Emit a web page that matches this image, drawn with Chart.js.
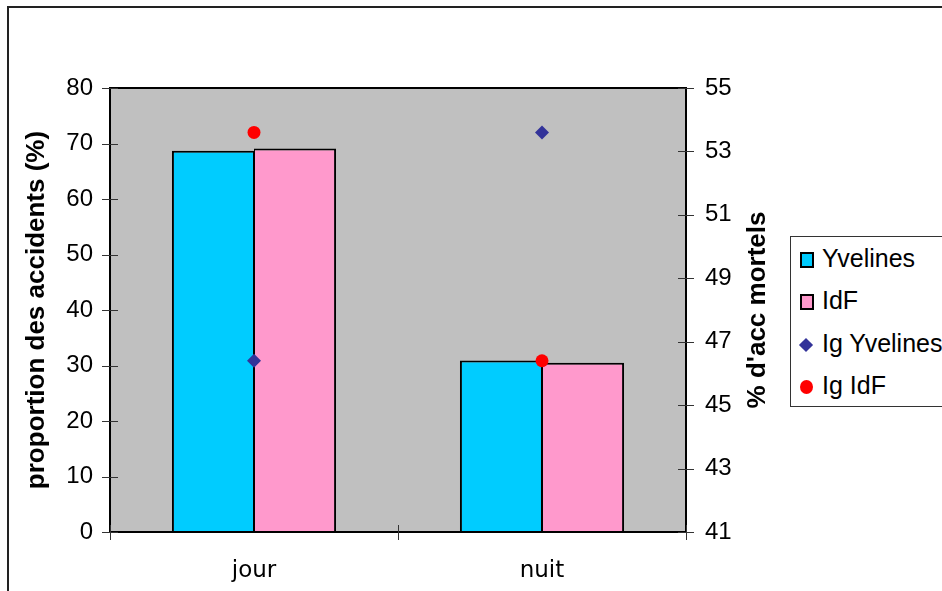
<!DOCTYPE html>
<html>
<head>
<meta charset="utf-8">
<script src="https://cdn.jsdelivr.net/npm/chart.js@4.4.1/dist/chart.umd.min.js"></script>
<style>
html,body{margin:0;padding:0;background:#fff;overflow:hidden}
#wrap{position:relative;width:942px;height:591px;overflow:hidden}
#frame{position:absolute;left:7px;top:6px;width:1000px;height:1000px;border:2px solid #222;box-sizing:border-box}
#plChart{position:absolute;left:0;top:0}
#legend{position:absolute;left:790px;top:236px;width:200px;height:171px;border:1px solid #333;box-sizing:border-box;background:#fff;
  font:25px "Liberation Sans",Arial,sans-serif;color:#000}
.item{position:absolute;left:31px;white-space:nowrap;line-height:30px;height:30px}
.mk{position:absolute;box-sizing:border-box}
</style>
</head>
<body>
<div id="wrap">
  <div id="frame"></div>
  <canvas id="plChart" width="942" height="591"></canvas>
  <div id="legend"></div>
</div>
<script>
const categories = ['jour', 'nuit'];
const yvelines = [68.7, 30.9];
const idf = [69.1, 30.5];
const igYvelines = [46.4, 53.6];
const igIdf = [53.6, 46.4];
const leftTicks = [0, 10, 20, 30, 40, 50, 60, 70, 80];
const rightTicks = [41, 43, 45, 47, 49, 51, 53, 55];

const tickFont = {family:'"Liberation Sans", Arial, sans-serif', size:24};
const titleFont = {family:'"Liberation Sans", Arial, sans-serif', size:26, weight:'bold'};

// grey plot area + black frame, ticks crossing the axes, right title read bottom-up
const plotDecor = {
  id:'plotDecor',
  beforeDatasetsDraw(chart){
    const {ctx, chartArea:a} = chart;
    ctx.save();
    ctx.fillStyle = '#C0C0C0';
    ctx.fillRect(a.left, a.top, a.right-a.left, a.bottom-a.top);
    ctx.restore();
  },
  afterDatasetsDraw(chart){
    const {ctx, chartArea:a, scales} = chart;
    ctx.save();
    ctx.strokeStyle = '#000';
    ctx.lineWidth = 2;
    ctx.strokeRect(a.left, a.top, a.right-a.left, a.bottom-a.top);
    ctx.lineWidth = 1;
    ctx.strokeStyle = '#333';
    ctx.beginPath();
    for(const v of leftTicks){
      const py = Math.round(scales.y.getPixelForValue(v))+0.5;
      ctx.moveTo(a.left-8, py); ctx.lineTo(a.left+8, py);
    }
    for(const v of rightTicks){
      const py = Math.round(scales.y1.getPixelForValue(v))+0.5;
      ctx.moveTo(a.right-8, py); ctx.lineTo(a.right+8, py);
    }
    const step = scales.x.width / categories.length;
    for(let i=0;i<=categories.length;i++){
      const px = Math.round(scales.x.left + i*step)+0.5;
      ctx.moveTo(px, a.bottom-7); ctx.lineTo(px, a.bottom+8);
    }
    ctx.stroke();

    const t = chart.options.scales.y1.title;
    ctx.fillStyle = '#000';
    ctx.font = `bold ${titleFont.size}px ${titleFont.family}`;
    ctx.textAlign = 'center';
    ctx.textBaseline = 'middle';
    ctx.translate(scales.y1.right - 27, (a.top+a.bottom)/2);
    ctx.rotate(-Math.PI/2);
    ctx.fillText(t.text, 0, 0);
    ctx.restore();
  }
};

const ctx = document.getElementById('plChart').getContext('2d');
const chart = new Chart(ctx, {
  type:'bar',
  data:{
    labels: categories,
    datasets:[
      { label:'Yvelines', data:yvelines, yAxisID:'y', backgroundColor:'#00CCFF', borderColor:'#000',
        borderWidth:{top:2,left:2,right:1,bottom:0}, borderSkipped:false, order:2 },
      { label:'IdF', data:idf, yAxisID:'y', backgroundColor:'#FF99CC', borderColor:'#000',
        borderWidth:{top:2,left:1,right:2,bottom:0}, borderSkipped:false, order:2 },
      { type:'line', label:'Ig Yvelines', data:igYvelines, yAxisID:'y1', showLine:false,
        pointStyle:'rectRot', pointRadius:7, pointBackgroundColor:'#333399', pointBorderWidth:0, order:0 },
      { type:'line', label:'Ig IdF', data:igIdf, yAxisID:'y1', showLine:false,
        pointStyle:'circle', pointRadius:6.5, pointBackgroundColor:'#FF0000', pointBorderWidth:0, order:0 }
    ]
  },
  options:{
    responsive:false,
    animation:false,
    layout:{ padding:{left:0, right:157, top:88, bottom:0} },
    categoryPercentage:0.57,
    barPercentage:1,
    plugins:{ legend:{display:false}, tooltip:{enabled:false} },
    scales:{
      x:{
        grid:{display:false, drawTicks:false}, border:{display:false},
        ticks:{color:'#000', font:{family:'"DejaVu Sans", sans-serif', size:23}, padding:25},
        afterFit:(s)=>{ s.height = 59; }
      },
      y:{
        position:'left', min:0, max:80,
        afterBuildTicks:(s)=>{ s.ticks = leftTicks.map(v=>({value:v})); },
        grid:{display:false, drawTicks:false}, border:{display:false},
        ticks:{color:'#000', font:tickFont, padding:17},
        title:{display:true, text:'proportion des accidents (%)', color:'#000', font:titleFont, padding:{top:21,bottom:0}},
        afterFit:(s)=>{ s.width = 110; }
      },
      y1:{
        position:'right', min:41, max:55,
        afterBuildTicks:(s)=>{ s.ticks = rightTicks.map(v=>({value:v})); },
        grid:{display:false, drawTicks:false}, border:{display:false},
        ticks:{color:'#000', font:tickFont, padding:19},
        title:{display:false, text:"% d'acc mortels"},
        afterFit:(s)=>{ s.width = 99; }
      }
    }
  },
  plugins:[plotDecor]
});

// legend built from the chart datasets
const legend = document.getElementById('legend');
chart.data.datasets.forEach((ds, i)=>{
  const item = document.createElement('div');
  item.className = 'item';
  item.style.top = (6 + i*42.3) + 'px';
  item.textContent = ds.label;
  const mk = document.createElement('div');
  mk.className = 'mk';
  if(ds.type === 'line'){
    if(ds.pointStyle === 'rectRot'){
      mk.style.cssText = 'left:-21px;top:12px;width:10px;height:10px;transform:rotate(45deg);background:'+ds.pointBackgroundColor;
    }else{
      mk.style.cssText = 'left:-22px;top:10px;width:13px;height:14px;border-radius:50%;background:'+ds.pointBackgroundColor;
    }
  }else{
    mk.style.cssText = 'left:-22px;top:9px;width:14px;height:16px;border:2px solid #000;background:'+ds.backgroundColor;
  }
  item.appendChild(mk);
  legend.appendChild(item);
});
</script>
</body>
</html>
